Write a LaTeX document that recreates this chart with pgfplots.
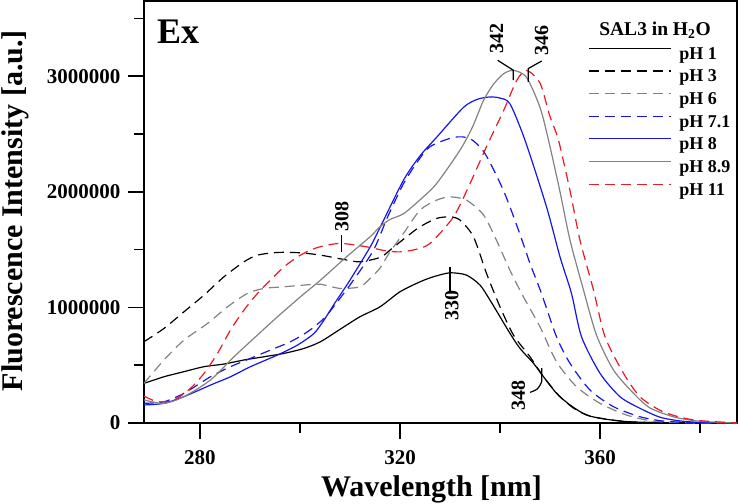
\documentclass[border=0pt]{standalone}
\usepackage{pgfplots}
\pgfplotsset{compat=1.18}
\usepackage{fontspec}
\setmainfont{Liberation Serif}
\definecolor{cgray}{RGB}{130,130,130}
\definecolor{cblue}{RGB}{20,20,235}
\definecolor{cred}{RGB}{235,25,35}
\begin{document}
\begin{tikzpicture}
\begin{axis}[
  scale only axis, width=593pt, height=422pt,
  xmin=268.8, xmax=387.4, ymin=0, ymax=3650000,
  axis line style={line width=1.5pt},
  xtick={280,320,360}, minor xtick={300,340,380},
  ytick={0,1000000,2000000,3000000}, minor ytick={500000,1500000,2500000,3500000},
  tick align=outside, tick pos=left,
  major tick length=16pt, minor tick length=10pt,
  every tick/.style={black, line width=1.5pt},
  scaled y ticks=false,
  /pgf/number format/assume math mode=true,
  yticklabel style={/pgf/number format/fixed, /pgf/number format/1000 sep={}, xshift=-4pt},
  xticklabel style={yshift=-8pt},
  ticklabel style={font=\fontsize{21}{24}\selectfont\bfseries},
  xlabel={Wavelength [nm]},
  ylabel={Fluorescence Intensity [a.u.]},
  label style={font=\fontsize{30}{36}\selectfont\bfseries},
  xlabel style={at={(axis description cs:0.4848,-0.1746)}, anchor=base, inner sep=0pt},
  ylabel style={at={(axis description cs:-0.2175,0.503)}, anchor=center, inner sep=0pt},
  legend style={at={(axis cs:357.6,3260000)}, anchor=north west, draw=none, fill=none,
    font=\fontsize{18}{21}\selectfont\bfseries, inner sep=0pt, row sep=7.65pt, column sep=8pt,
    cells={anchor=west}, nodes={inner sep=0pt, text height=13pt, text depth=2pt}},
  legend image code/.code={\draw[#1, line width=1.2pt] (0pt,5.5pt) -- (82pt,5.5pt);},
  every axis plot/.append style={line width=1.2pt, smooth, tension=0.45},
  clip=false,
]
\coordinate (LL) at (rel axis cs:0,0);
\coordinate (UR) at (rel axis cs:1,1);
% pH 1
\addplot[black] coordinates {
(268.8,343000)(272.8,400000)(276.8,444000)(280.8,487000)(284.8,510000)(288.8,545000)
(292.8,573000)(296.8,602000)(300.8,645000)(304.1,703000)(308,810000)(312,919000)(316,1005000)
(320,1135000)(324,1221000)(326.7,1265000)(330,1299000)(333.3,1279000)(336,1193000)
(338,1063000)(340,919000)(342,775000)(344,645000)(346.7,516000)(348.7,400000)(351.3,257000)
(354,156000)(357.3,69000)(361.3,32000)(366,10000)(372,3000)(380,0)(387.4,0)};
\addlegendentry{pH 1}
% pH 3
\addplot[black, dash pattern=on 10pt off 6pt] coordinates {
(268.8,703000)(272.8,818000)(276.8,962000)(280.8,1106000)(284.8,1265000)(288.8,1394000)
(291.5,1452000)(295.5,1475000)(300.1,1472000)(304.1,1452000)(308.7,1415000)(312,1394000)
(316,1432000)(318,1495000)(321,1600000)(324,1697000)(327.3,1769000)(330,1783000)
(332,1755000)(334.7,1610000)(337.3,1294000)(340,1005000)(342.7,760000)(346,573000)
(348.7,400000)(352,227000)(355,120000)(358,60000)(362,28000)(366,10000)(372,3000)(380,0)(387.4,0)};
\addlegendentry{pH 3}
% pH 6
\addplot[cgray, dash pattern=on 10pt off 6pt] coordinates {
(268.8,343000)(272.8,545000)(276.8,717000)(281.5,861000)(285.5,1005000)(289.5,1121000)
(292.8,1164000)(296.8,1178000)(300.8,1193000)(304.1,1200000)(308,1164000)(312,1178000)
(314,1250000)(316,1340000)(318,1481000)(320.7,1640000)(324,1841000)(327.3,1927000)
(330,1956000)(333.3,1927000)(336.7,1800000)(339.3,1580000)(342,1320000)(344.7,1090000)
(348,832000)(351.3,530000)(355.3,314000)(360,170000)(365.3,69000)(370,20000)(375,5000)
(380,0)(387.4,0)};
\addlegendentry{pH 6}
% pH 7.1
\addplot[cblue, dash pattern=on 10pt off 6pt] coordinates {
(268.8,170000)(272.8,184000)(276.8,257000)(282.1,400000)(286.1,487000)(290.1,559000)
(294.1,631000)(298.1,703000)(301.5,789000)(304.8,905000)(307.5,1050000)(310.7,1236000)
(314.7,1495000)(317.5,1780000)(320.7,2070000)(323.5,2260000)(326,2390000)(330.7,2470000)
(334,2460000)(337,2330000)(340.7,2010000)(343.7,1668000)(346,1380000)(348.3,1120000)
(351.3,746000)(354,516000)(358,285000)(362.7,141000)(368,54000)(373,15000)(380,3000)(387.4,0)};
\addlegendentry{pH 7.1}
% pH 8
\addplot[cblue] coordinates {
(268.8,156000)(272.8,170000)(276.8,228000)(282.1,328000)(286.1,400000)(290.1,487000)
(295.5,588000)(299.5,674000)(302.8,775000)(304.8,890000)(307,1040000)(310,1236000)
(314,1520000)(316,1690000)(320.7,2100000)(324,2310000)(327.3,2470000)(332.7,2730000)
(335.5,2800000)(338,2820000)(340,2810000)(342,2760000)(345,2446000)(349.3,1870000)
(352,1437000)(354.3,1120000)(356.3,746000)(360,430000)(364,227000)(368,127000)
(372,50000)(376,18000)(380,5000)(387.4,0)};
\addlegendentry{pH 8}
% pH 8.9
\addplot[cgray] coordinates {
(268.8,199000)(272.8,170000)(276.8,228000)(282.1,372000)(286.8,573000)(291.5,761000)
(295.5,919000)(300.1,1092000)(304.1,1236000)(309.3,1437000)(314,1610000)(316,1697000)
(318,1760000)(320.7,1810000)(324,1930000)(327.3,2070000)(332,2360000)(334.5,2560000)
(336.7,2790000)(338.7,2930000)(340.7,3020000)(342.7,3050000)(345.3,2990000)(348,2730000)
(349.7,2446000)(352,2000000)(354,1582000)(356.7,1150000)(359.3,760000)(362.7,458000)
(366.7,257000)(370,130000)(375,50000)(380,15000)(387.4,0)};
\addlegendentry{pH 8.9}
% pH 11
\addplot[cred, dash pattern=on 10pt off 6pt] coordinates {
(268.8,233000)(271.5,184000)(274.8,199000)(278.1,300000)(280.8,429000)(283.5,602000)
(286.1,804000)(288.8,977000)(291.5,1121000)(294.1,1236000)(296.8,1351000)(300.1,1452000)
(303.5,1518000)(308,1553000)(313.3,1524000)(317,1490000)(320,1480000)(323,1500000)
(326,1553000)(330.7,1783000)(334,2070000)(337.3,2390000)(340.7,2700000)(343.3,2960000)
(345.3,3050000)(348,2940000)(350,2650000)(351.7,2446000)(354,2010000)(356,1580000)
(358.7,1150000)(361,746000)(364.7,430000)(368,227000)(372,110000)(376,50000)
(380,20000)(387.4,0)};
\addlegendentry{pH 11}
% annotations
\node[anchor=base west, inner sep=0pt, font=\fontsize{36}{40}\selectfont\bfseries] at (axis cs:271.4,3284000) {Ex};
\node[anchor=base, inner sep=0pt, font=\fontsize{19.5}{23}\selectfont\bfseries] at (axis cs:371,3353000) {SAL3 in H\textsubscript{2}O};
\begin{scope}[font=\fontsize{20}{24}\selectfont\bfseries]
\node[rotate=90, inner sep=0pt] at (axis cs:339.34,3327000) {342};
\draw[line width=1.2pt] (axis cs:339.54,3137000) -- (axis cs:342.66,3051000) -- (axis cs:342.66,2965000);
\node[rotate=90, inner sep=0pt] at (axis cs:348.34,3310000) {346};
\draw[line width=1.2pt] (axis cs:348.34,3131000) -- (axis cs:345.66,3066000) -- (axis cs:345.66,2950000);
\node[rotate=90, inner sep=0pt] at (axis cs:308.34,1785000) {308};
\draw[line width=1.2pt] (axis cs:308.34,1625000) -- (axis cs:308.34,1480000);
\node[rotate=90, inner sep=0pt] at (axis cs:330.34,1013000) {330};
\draw[line width=1.2pt] (axis cs:330,1351000) -- (axis cs:330,1121000);
\node[rotate=90, inner sep=0pt] at (axis cs:343.66,238000) {348};
\draw[line width=1.2pt] (axis cs:346,265000) .. controls (axis cs:347.6,290000) .. (axis cs:348.34,357000) -- (axis cs:348.34,475000);
\end{scope}
\end{axis}
\pgfresetboundingbox
\path[use as bounding box] ([shift={(-144pt,-81pt)}]LL) rectangle ([shift={(1pt,1pt)}]UR);
\end{tikzpicture}
\end{document}
